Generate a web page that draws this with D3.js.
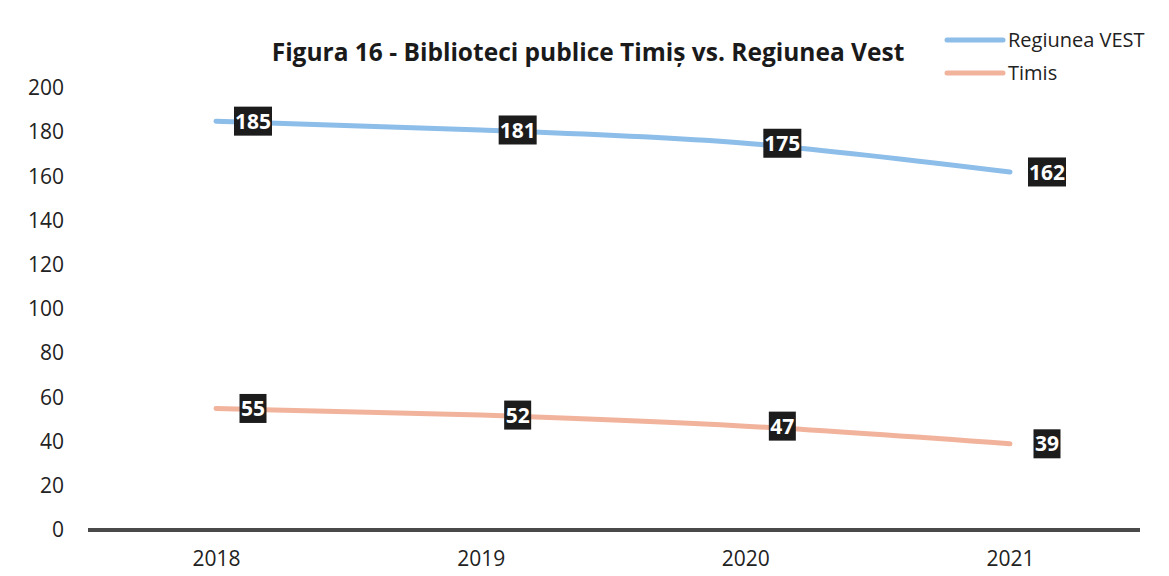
<!DOCTYPE html>
<html>
<head>
<meta charset="utf-8">
<script src="https://cdn.jsdelivr.net/npm/d3@7"></script>
<style>
  body { margin: 0; background: #fff; }
  text { font-family: "Open Sans", "Noto Sans", sans-serif; }
</style>
</head>
<body>
<svg id="chart" width="1169" height="576"></svg>
<script>
var years = ['2018', '2019', '2020', '2021'];
var regiuneaVest = [185, 181, 175, 162];
var timis = [55, 52, 47, 39];
var yTicks = [0, 20, 40, 60, 80, 100, 120, 140, 160, 180, 200];

var svg = d3.select('#chart');

var x = d3.scalePoint().domain(years).range([216, 1010]);
var y = d3.scaleLinear().domain([0, 200]).range([530, 88]);

// y tick labels (no axis line)
svg.append('g')
  .attr('transform', 'translate(64,0)')
  .call(d3.axisLeft(y).tickValues(yTicks).tickSize(0).tickPadding(0))
  .call(g => g.select('.domain').remove())
  .selectAll('text')
  .attr('font-size', 21)
  .attr('fill', '#222')
  .style('font-family', '"Open Sans", sans-serif');

// zero line
svg.append('line')
  .attr('x1', 88).attr('x2', 1140)
  .attr('y1', y(0)).attr('y2', y(0))
  .attr('stroke', '#4a4a4a')
  .attr('stroke-width', 4);

// x labels
svg.append('g')
  .attr('transform', 'translate(0,' + y(0) + ')')
  .call(d3.axisBottom(x).tickSize(0).tickPadding(21))
  .call(g => g.select('.domain').remove())
  .selectAll('text')
  .attr('font-size', 21)
  .attr('fill', '#222')
  .style('font-family', '"Open Sans", sans-serif');

var series = [
  { name: 'Regiunea VEST', values: regiuneaVest, color: '#8dbde9' },
  { name: 'Timis', values: timis, color: '#f2b39c' }
];

var line = d3.line()
  .x((d, i) => x(years[i]))
  .y(d => y(d))
  .curve(d3.curveMonotoneX);

series.forEach(function (s) {
  svg.append('path')
    .datum(s.values)
    .attr('d', line)
    .attr('fill', 'none')
    .attr('stroke', s.color)
    .attr('stroke-width', 5)
    .attr('stroke-linecap', 'round');

  // data labels, black boxes to the right of each point
  var lab = svg.append('g').selectAll('g')
    .data(s.values)
    .enter()
    .append('g')
    .attr('transform', (d, i) => 'translate(' + (x(years[i]) + 37) + ',' + y(d) + ')');

  lab.append('rect')
    .attr('x', d => String(d).length > 2 ? -19 : -13.5)
    .attr('y', -14.5)
    .attr('width', d => String(d).length > 2 ? 38 : 27)
    .attr('height', 29)
    .attr('fill', '#1c1c1c');

  lab.append('text')
    .attr('text-anchor', 'middle')
    .attr('dy', '0.36em')
    .attr('font-size', 21)
    .attr('font-weight', 'bold')
    .attr('fill', '#fff')
    .text(d => d);
});

// title
svg.append('text')
  .attr('x', 588)
  .attr('y', 61)
  .attr('text-anchor', 'middle')
  .attr('font-size', 24.5)
  .attr('font-weight', 'bold')
  .attr('fill', '#1a1a1a')
  .text('Figura 16 - Biblioteci publice Timiș vs. Regiunea Vest');

// legend
var legend = svg.append('g').selectAll('g')
  .data(series)
  .enter()
  .append('g')
  .attr('transform', (d, i) => 'translate(947,' + (40 + i * 33) + ')');

legend.append('line')
  .attr('x1', 0).attr('x2', 56)
  .attr('stroke', d => d.color)
  .attr('stroke-width', 5)
  .attr('stroke-linecap', 'round');

legend.append('text')
  .attr('x', 61)
  .attr('dy', '0.35em')
  .attr('font-size', 20)
  .attr('fill', '#222')
  .text(d => d.name);
</script>
</body>
</html>
